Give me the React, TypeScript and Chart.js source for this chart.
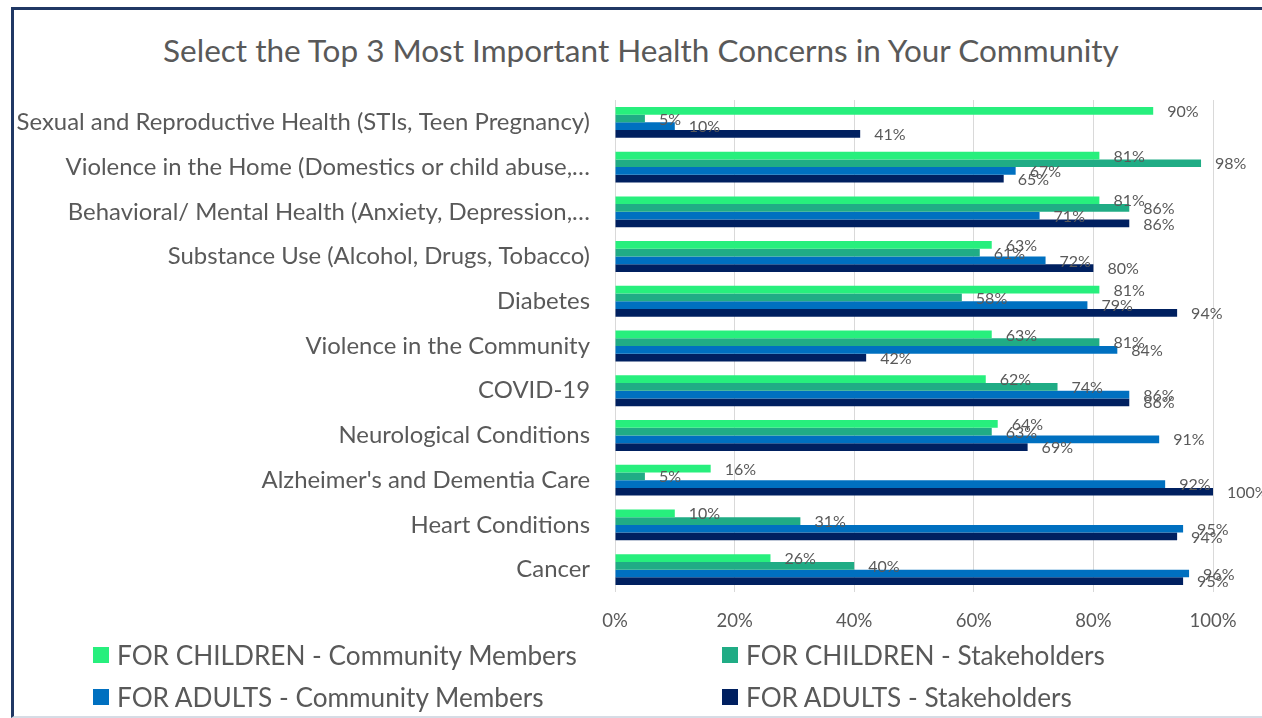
import React, { useEffect, useRef } from "react";
import { Chart, registerables } from "chart.js";

Chart.register(...registerables);

const categories = [
  "Sexual and Reproductive Health (STIs, Teen Pregnancy)",
  "Violence in the Home (Domestics or child abuse,…",
  "Behavioral/ Mental Health (Anxiety, Depression,…",
  "Substance Use (Alcohol, Drugs, Tobacco)",
  "Diabetes",
  "Violence in the Community",
  "COVID-19",
  "Neurological Conditions",
  "Alzheimer's and Dementia Care",
  "Heart Conditions",
  "Cancer",
];

const childrenCommunity = [90, 81, 81, 63, 81, 63, 62, 64, 16, 10, 26];
const childrenStakeholders = [5, 98, 86, 61, 58, 81, 74, 63, 5, 31, 40];
const adultsCommunity = [10, 67, 71, 72, 79, 84, 86, 91, 92, 95, 96];
const adultsStakeholders = [41, 65, 86, 80, 94, 42, 86, 69, 100, 94, 95];

const seriesNames = [
  "FOR CHILDREN - Community Members",
  "FOR CHILDREN - Stakeholders",
  "FOR ADULTS - Community Members",
  "FOR ADULTS - Stakeholders",
];
const seriesColors = ["#27EF7D", "#20AC85", "#0070C0", "#002060"];
const xTicks = [0, 20, 40, 60, 80, 100];

const TITLE = "Select the Top 3 Most Important Health Concerns in Your Community";
const FONT = "Lato, 'Open Sans', sans-serif";
const TEXT = "#595959";

const valueLabels = {
  id: "valueLabels",
  afterDatasetsDraw(chart: any) {
    const ctx = chart.ctx;
    ctx.save();
    ctx.font = `16px ${FONT}`;
    ctx.fillStyle = TEXT;
    ctx.textAlign = "left";
    ctx.textBaseline = "middle";
    chart.data.datasets.forEach((ds: any, i: number) => {
      const meta = chart.getDatasetMeta(i);
      meta.data.forEach((el: any, j: number) => {
        const v = ds.data[j];
        ctx.fillText(`${v}%`, el.x + 14, el.y + 1);
      });
    });
    ctx.restore();
  },
};

export default function App() {
  const canvasRef = useRef<HTMLCanvasElement | null>(null);

  useEffect(() => {
    const canvas = canvasRef.current;
    if (!canvas) return;
    const seriesData = [childrenCommunity, childrenStakeholders, adultsCommunity, adultsStakeholders];
    const chart = new Chart(canvas, {
      type: "bar",
      data: {
        labels: categories,
        datasets: seriesData.map((d, i) => ({
          label: seriesNames[i],
          data: d,
          backgroundColor: seriesColors[i],
          borderWidth: 0,
          categoryPercentage: 0.69,
          barPercentage: 1,
        })),
      },
      options: {
        indexAxis: "y",
        responsive: false,
        animation: false,
        layout: { padding: { top: 100, bottom: 86, left: 0, right: 49 } },
        plugins: {
          legend: { display: false },
          title: { display: false },
          tooltip: { enabled: false },
        },
        scales: {
          x: {
            min: 0,
            max: 100,
            afterBuildTicks: (scale: any) => {
              scale.ticks = xTicks.map((v) => ({ value: v }));
            },
            afterFit: (scale: any) => {
              scale.height = 40;
            },
            grid: { color: "#D9D9D9", drawTicks: false, lineWidth: 1 },
            border: { display: false },
            ticks: {
              padding: 18,
              color: TEXT,
              font: { family: FONT, size: 18.5 },
              callback: (v: any) => `${v}%`,
            },
          },
          y: {
            afterFit: (scale: any) => {
              scale.width = 615;
            },
            grid: { display: false },
            border: { display: false },
            ticks: {
              padding: 17,
              color: TEXT,
              font: { family: FONT, size: 23.9 },
              autoSkip: false,
            },
          },
        },
      },
      plugins: [valueLabels],
    } as any);
    return () => chart.destroy();
  }, []);

  const legendItem = (i: number, left: number, top: number) => (
    <div
      key={i}
      style={{ position: "absolute", left, top, height: 30, display: "flex", alignItems: "center" }}
    >
      <div style={{ width: 16, height: 16, background: seriesColors[i], marginRight: 8 }} />
      <span style={{ fontFamily: FONT, fontSize: 26.2, color: TEXT, whiteSpace: "nowrap" }}>{seriesNames[i]}</span>
    </div>
  );

  return (
    <div
      style={{
        position: "absolute",
        left: 0,
        top: 0,
        width: 1262,
        height: 718,
        overflow: "hidden",
        background: "#fff",
      }}
    >
      <div
        style={{
          position: "absolute",
          left: 11,
          top: 7,
          width: 1300,
          height: 706,
          borderLeft: "3px solid #203864",
          borderTop: "3px solid #203864",
          borderBottom: "2px solid #D6DCE5",
        }}
      />
      <div
        style={{
          position: "absolute",
          left: 41,
          top: 32,
          width: 1200,
          lineHeight: "36px",
          textAlign: "center",
          fontFamily: FONT,
          fontSize: 31.5,
          color: TEXT,
          whiteSpace: "nowrap",
        }}
      >
        {TITLE}
      </div>
      <canvas ref={canvasRef} width={1262} height={718} style={{ position: "absolute", left: 0, top: 0 }} />
      {legendItem(0, 93, 640)}
      {legendItem(1, 722, 640)}
      {legendItem(2, 93, 682)}
      {legendItem(3, 722, 682)}
    </div>
  );
}
